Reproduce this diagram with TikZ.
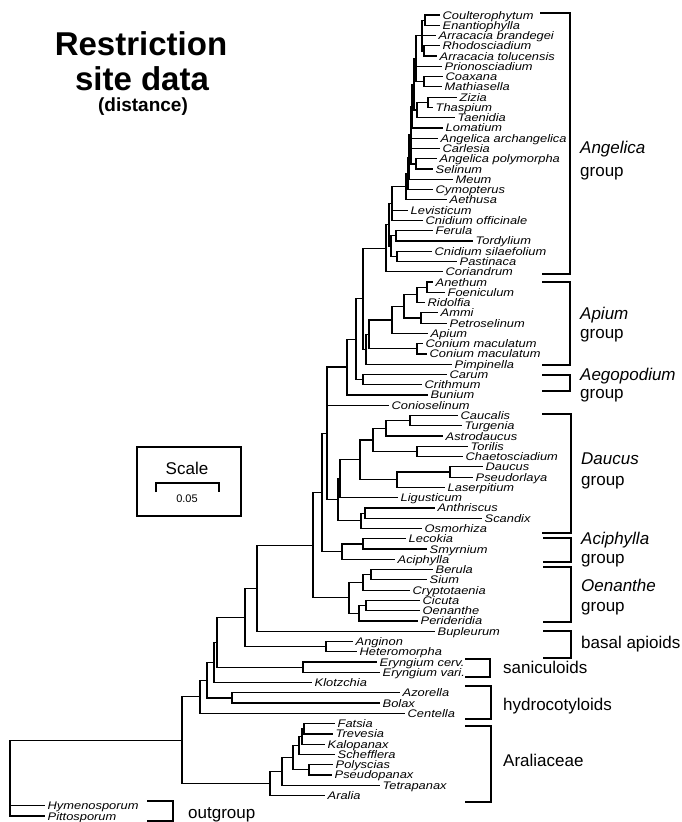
\documentclass[tikz,border=0pt]{standalone}
\usepackage{graphicx}
\usepackage{fontspec}
\setmainfont{Liberation Sans}
\newfontfamily\leaffont{Liberation Sans}
\begin{document}
\begin{tikzpicture}[x=1pt,y=-1pt,
  branch/.style={line width=1.2pt},
  brk/.style={line width=1.2pt},
  leaf/.style={font=\leaffont\itshape\fontsize{11}{13}\selectfont, anchor=west, inner xsep=2.5pt, inner ysep=0pt, text height=8pt, text depth=0pt},
  grp/.style={font=\fontsize{17}{20}\selectfont, anchor=base west, inner sep=0pt},
  ttl/.style={font=\bfseries\fontsize{33}{36}\selectfont, anchor=base, inner sep=0pt}]
\useasboundingbox (0,0) rectangle (681,822);

% title
\node[ttl] (title1) at (141,55) {Restriction};
\node[ttl] (title2) at (142,90) {site data};
\node[font=\bfseries\fontsize{19}{22}\selectfont, anchor=base, inner sep=0pt] (title3) at (143,111) {(distance)};

% scale box
\node[draw, line width=1.1pt, minimum width=104pt, minimum height=69pt, inner sep=0pt] (scalebox) at (189,481.5) {};
\node[font=\fontsize{17}{20}\selectfont, anchor=base, inner sep=0pt] (scaletxt) at (187,474) {Scale};
\coordinate (sbL) at (156,483);
\coordinate (sbR) at (219,483);
\draw[line width=1.1pt] ([yshift=-9pt]sbL) -- (sbL) -- (sbR) -- ([yshift=-9pt]sbR);
\node[font=\fontsize{11}{13}\selectfont, anchor=base, inner sep=0pt] (scaleval) at (187,502) {0.05};

% tree
\begin{scope}[y=-10.27pt, yshift=-4.73pt]
\foreach \i/\x/\nm in {
 1/440/Coulterophytum, 2/440/Enantiophylla, 3/436/Arracacia brandegei, 4/440/Rhodosciadium,
 5/437/Arracacia tolucensis, 6/442/Prionosciadium, 7/443/Coaxana, 8/442/Mathiasella,
 9/457/Zizia, 10/433/Thaspium, 11/455/Taenidia, 12/443/Lomatium,
 13/438/Angelica archangelica, 14/440/Carlesia, 15/437/Angelica polymorpha, 16/433/Selinum,
 17/453/Meum, 18/433/Cymopterus, 19/447/Aethusa, 20/408/Levisticum,
 21/423/Cnidium officinale, 22/433/Ferula, 23/473/Tordylium, 24/432/Cnidium silaefolium,
 25/457/Pastinaca, 26/443/Coriandrum, 27/433/Anethum, 28/445/Foeniculum,
 29/425/Ridolfia, 30/438/Ammi, 31/447/Petroselinum, 32/428/Apium,
 33/423/Conium maculatum, 34/427/Conium maculatum, 35/452/Pimpinella, 36/447/Carum,
 37/422/Crithmum, 38/428/Bunium, 39/389/Conioselinum, 40/458/Caucalis,
 41/462/Turgenia, 42/443/Astrodaucus, 43/468/Torilis, 44/463/Chaetosciadium,
 45/483/Daucus, 46/473/Pseudorlaya, 47/445/Laserpitium, 48/398/Ligusticum,
 49/435/Anthriscus, 50/482/Scandix, 51/422/Osmorhiza, 52/406/Lecokia,
 53/427/Smyrnium, 54/395/Aciphylla, 55/433/Berula, 56/427/Sium,
 57/410/Cryptotaenia, 58/420/Cicuta, 59/420/Oenanthe, 60/418/Perideridia,
 61/435/Bupleurum, 62/353/Anginon, 63/357/Heteromorpha, 64/377/Eryngium cerv.,
 65/380/Eryngium vari., 66/312/Klotzchia, 67/400/Azorella, 68/380/Bolax,
 69/405/Centella, 70/335/Fatsia, 71/333/Trevesia, 72/325/Kalopanax,
 73/335/Schefflera, 74/333/Polyscias, 75/332/Pseudopanax, 76/380/Tetrapanax,
 77/325/Aralia, 78/45/Hymenosporum, 79/45/Pittosporum}
{
  \coordinate (l\i) at (\x,\i);
  \node[leaf] (t\i) at (l\i) {\scalebox{1.17}[1]{\nm}};
}
\foreach \n/\x/\y in {
 C1/425/1.5, C2/424/4.5, C3/422/3, C4/424/7.5, C5/416/5.25, C6/428/9.5, C7/417/10.25,
 C8/414/7.75, C9/412/9.875, C10/416/15.5, C11/411/12.69, C12/409/14.84, C13/408/16.42,
 C14/406/17.71, C15/392/19.36, C16/396/22.5, C17/397/24.5, C18/391/23.5, C19/389/21.43,
 C20/386/23.71,
 D1/427/27.5, D2/417/28.25, D3/421/30.5, D4/404/29.375, D5/392/30.69, D6/417/33.5,
 D7/369/32.09, D8/366/33.55,
 E1/363/28.63, E2/363/36.5, E3/356/32.57, E4/347/35.28,
 F1/410/40.5, F2/386/41.25, F3/417/43.5, F4/373/42.375, F5/450/45.5, F6/397/46.25,
 F7/360/44.31, F8/340/46.16, F9/365/49.5, F10/361/50.25, F11/338/48.2,
 E5/327/41.74, G1/363/52.5, G2/342/53.25, G3/322/47.5,
 I1/371/55.5, I2/363/56.25, I3/366/58.5, I4/359/59.25, I5/349/57.75,
 H1/313/52.62, J1/257/56.81, J2/326/62.5, J3/245/59.66,
 K2/303/64.5, K1/217/62.08, K3/214/64.04, L1/232/67.5, K4/207/65.77, K5/200/67.39,
 M1/304/70.5, M2/302/71.25, M3/299/72.125, M4/309/74.5, M5/293/73.31, M6/282/74.66,
 M7/270/75.83, R2/182/71.61, R/10/75.3}
{
  \coordinate (\n) at (\x,\y);
}
\foreach \p/\c in {
 C1/l1, C1/l2, C2/l4, C2/l5, C3/C1, C3/l3, C3/C2, C4/l7, C4/l8, C5/C3, C5/l6, C5/C4,
 C6/l9, C6/l10, C7/C6, C7/l11, C8/C5, C8/C7, C9/C8, C9/l12, C10/l15, C10/l16,
 C11/C9, C11/l13, C11/l14, C11/C10, C12/C11, C12/l17, C13/C12, C13/l18, C14/C13, C14/l19,
 C15/C14, C15/l20, C15/l21, C16/l22, C16/l23, C17/l24, C17/l25, C18/C16, C18/C17,
 C19/C15, C19/C18, C20/C19, C20/l26,
 D1/l27, D1/l28, D2/D1, D2/l29, D3/l30, D3/l31, D4/D2, D4/D3, D5/D4, D5/l32,
 D6/l33, D6/l34, D7/D5, D7/D6, D8/D7, D8/l35,
 E1/C20, E1/D8, E2/l36, E2/l37, E3/E1, E3/E2, E4/E3, E4/l38,
 F1/l40, F1/l41, F2/F1, F2/l42, F3/l43, F3/l44, F4/F2, F4/F3, F5/l45, F5/l46,
 F6/F5, F6/l47, F7/F4, F7/F6, F8/F7, F8/l48, F9/l49, F9/l50, F10/F9, F10/l51,
 F11/F8, F11/F10, E5/E4, E5/l39, E5/F11,
 G1/l52, G1/l53, G2/G1, G2/l54, G3/E5, G3/G2,
 I1/l55, I1/l56, I2/I1, I2/l57, I3/l58, I3/l59, I4/I3, I4/l60, I5/I2, I5/I4,
 H1/G3, H1/I5, J1/H1, J1/l61, J2/l62, J2/l63, J3/J1, J3/J2,
 K2/l64, K2/l65, K1/J3, K1/K2, K3/K1, K3/l66, L1/l67, L1/l68, K4/K3, K4/L1, K5/K4, K5/l69,
 M1/l70, M1/l71, M2/M1, M2/l72, M3/M2, M3/l73, M4/l74, M4/l75, M5/M3, M5/M4,
 M6/M5, M6/l76, M7/M6, M7/l77, R2/K5, R2/M7, R/R2, R/l78, R/l79}
{
  \draw[branch] (\p) |- (\c);
}
\end{scope}

% group brackets
\draw[brk] (540,13) -| (570,274) -- (542,274);
\draw[brk] (542,282) -| (570,365) -- (542,365);
\draw[brk] (542,375) -| (570,391) -- (542,391);
\draw[brk] (542,414) -| (571,533) -- (542,533);
\draw[brk] (543,538) -| (571,562) -- (543,562);
\draw[brk] (543,567) -| (571,622) -- (543,622);
\draw[brk] (543,631) -| (571,658) -- (543,658);
\draw[brk] (465,659) -| (490,677) -- (465,677);
\draw[brk] (465,686) -| (491,719) -- (465,719);
\draw[brk] (465,726) -| (491,802) -- (465,802);
\draw[brk] (147,801) -| (173,821) -- (147,821);

% group labels
\node[grp] (gAng) at (580,153) {\textit{Angelica}};
\node[grp] (gAng2) at (580,176) {group};
\node[grp] (gApi) at (580,319) {\textit{Apium}};
\node[grp] (gApi2) at (580,338) {group};
\node[grp] (gAeg) at (580,380) {\textit{Aegopodium}};
\node[grp] (gAeg2) at (580,398) {group};
\node[grp] (gDau) at (581,464) {\textit{Daucus}};
\node[grp] (gDau2) at (581,485) {group};
\node[grp] (gAci) at (581,544) {\textit{Aciphylla}};
\node[grp] (gAci2) at (581,563) {group};
\node[grp] (gOen) at (581,591) {\textit{Oenanthe}};
\node[grp] (gOen2) at (581,611) {group};
\node[grp] (gBas) at (581,648) {basal apioids};
\node[grp] (gSan) at (503,673) {saniculoids};
\node[grp] (gHyd) at (503,710) {hydrocotyloids};
\node[grp] (gAra) at (503,766) {Araliaceae};
\node[grp] (gOut) at (188,818) {outgroup};
\end{tikzpicture}
\end{document}
